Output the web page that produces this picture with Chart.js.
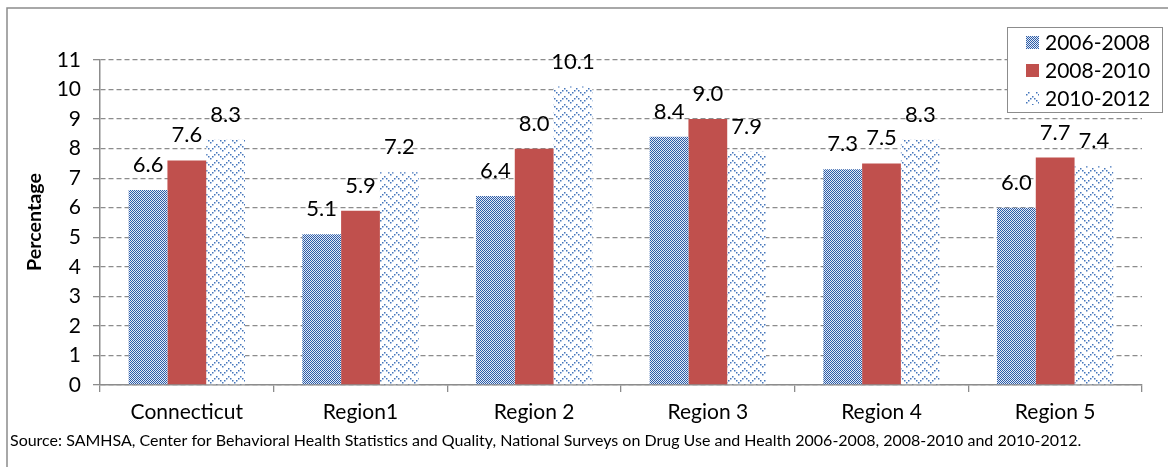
<!DOCTYPE html>
<html>
<head>
<meta charset="utf-8">
<script src="https://cdn.jsdelivr.net/npm/chart.js@4/dist/chart.umd.min.js"></script>
<style>
  html, body { margin: 0; padding: 0; background: #fff; }
  #wrap { width: 1168px; height: 467px; position: relative; }
</style>
</head>
<body>
<div id="wrap"><canvas id="c" width="1168" height="467"></canvas></div>
<script>
// ---- data ----
const categories = ['Connecticut', 'Region1', 'Region 2', 'Region 3', 'Region 4', 'Region 5'];
const seriesNames = ['2006-2008', '2008-2010', '2010-2012'];
const values0608 = [6.6, 5.1, 6.4, 8.4, 7.3, 6.0];
const values0810 = [7.6, 5.9, 8.0, 9.0, 7.5, 7.7];
const values1012 = [8.3, 7.2, 10.1, 7.9, 8.3, 7.4];
const yTickLabels = ['0', '1', '2', '3', '4', '5', '6', '7', '8', '9', '10', '11'];
const yAxisTitle = 'Percentage';
const sourceNote = 'Source: SAMHSA, Center for Behavioral Health Statistics and Quality, National Surveys on Drug Use and Health 2006-2008, 2008-2010 and 2010-2012.';

// ---- styles ----
const FONT = 'Lato, "Open Sans", sans-serif';
const BLUE = '#2c5ca8';
const RED = '#c0504d';
const AXIS = '#8c8c8c';

const canvas = document.getElementById('c');
const ctx = canvas.getContext('2d');

// fine checkerboard fill
function checkerFill() {
  const t = document.createElement('canvas');
  t.width = 2; t.height = 2;
  const g = t.getContext('2d');
  g.fillStyle = '#e4ebf6'; g.fillRect(0, 0, 2, 2);
  g.fillStyle = BLUE; g.fillRect(0, 0, 1, 1); g.fillRect(1, 1, 1, 1);
  return ctx.createPattern(t, 'repeat');
}

// dotted zig-zag fill
function zigzagFill() {
  const W = 12, H = 8;
  const t = document.createElement('canvas');
  t.width = W; t.height = H;
  const g = t.getContext('2d');
  g.fillStyle = '#fff'; g.fillRect(0, 0, W, H);
  g.fillStyle = '#4576bb';
  for (let x = 0; x < W; x += 2) {
    const y = 6 - Math.abs(x - 6);
    g.fillRect(x, y, 1.5, 1.5);
  }
  return ctx.createPattern(t, 'repeat');
}

const fills = [checkerFill(), RED, zigzagFill()];
const seriesValues = [values0608, values0810, values1012];

const datasets = seriesNames.map((name, i) => ({
  label: name,
  data: seriesValues[i],
  backgroundColor: fills[i],
  borderWidth: 0,
  categoryPercentage: 0.67,
  barPercentage: 1.0
}));

// page frame, value labels, legend, axis title, source line
const decorations = {
  id: 'decorations',
  beforeDraw(chart) {
    const c = chart.ctx;
    c.save();
    c.fillStyle = '#fff';
    c.fillRect(0, 0, chart.width, chart.height);
    c.strokeStyle = AXIS;
    c.lineWidth = 1.5;
    c.strokeRect(7, 8, chart.width + 10, chart.height + 10);
    c.restore();
  },
  afterDatasetsDraw(chart) {
    const c = chart.ctx;
    c.save();
    c.fillStyle = '#000';
    c.font = '22px ' + FONT;
    c.textAlign = 'center';
    c.textBaseline = 'alphabetic';
    chart.data.datasets.forEach((ds, di) => {
      chart.getDatasetMeta(di).data.forEach((bar, i) => {
        c.fillText(ds.data[i].toFixed(1), bar.x, bar.y - 18);
      });
    });
    c.restore();
  },
  afterDraw(chart) {
    const c = chart.ctx;
    c.save();
    // legend
    const lx = 1007, ly = 27, lw = 155, lh = 85;
    c.fillStyle = '#fff';
    c.fillRect(lx, ly, lw, lh);
    c.strokeStyle = AXIS;
    c.lineWidth = 1;
    c.strokeRect(lx + 0.5, ly + 0.5, lw, lh);
    c.font = '21px ' + FONT;
    c.textBaseline = 'middle';
    c.textAlign = 'left';
    chart.data.datasets.forEach((ds, i) => {
      const cy = 42 + i * 28;
      c.fillStyle = ds.backgroundColor;
      c.fillRect(1026, cy - 6, 13, 13);
      c.fillStyle = '#000';
      c.fillText(ds.label, 1045, cy + 1);
    });
    // y-axis title
    c.save();
    c.font = 'bold 16px ' + FONT;
    const tw = c.measureText(yAxisTitle).width;
    const ts = 16 * 98 / tw;
    c.translate(35, 222);
    c.rotate(-Math.PI / 2);
    c.font = 'bold ' + ts.toFixed(2) + 'px ' + FONT;
    c.textAlign = 'center';
    c.textBaseline = 'middle';
    c.fillStyle = '#000';
    c.fillText(yAxisTitle, 0, 0);
    c.restore();
    // source line
    c.font = '14px ' + FONT;
    const w = c.measureText(sourceNote).width;
    const size = 14 * 1072 / w;
    c.font = size.toFixed(2) + 'px ' + FONT;
    c.fillStyle = '#000';
    c.textAlign = 'left';
    c.textBaseline = 'middle';
    c.fillText(sourceNote, 10, 441);
    c.restore();
  }
};

new Chart(canvas, {
  type: 'bar',
  data: { labels: categories, datasets },
  options: {
    responsive: false,
    animation: false,
    devicePixelRatio: 1,
    layout: { padding: { top: 60, right: 26, left: 0, bottom: 0 } },
    plugins: {
      legend: { display: false },
      tooltip: { enabled: false },
      title: { display: false }
    },
    scales: {
      x: {
        offset: true,
        grid: {
          display: true, drawOnChartArea: false, drawTicks: true,
          tickLength: 7, color: AXIS, lineWidth: 1.3, offset: true
        },
        border: { display: true, color: AXIS, width: 1.5 },
        ticks: {
          color: '#000', font: { family: FONT, size: 21 },
          padding: 8, maxRotation: 0, autoSkip: false
        },
        afterFit(s) { s.height = 82; }
      },
      y: {
        min: 0, max: 11,
        grid: {
          color: AXIS, lineWidth: 1.3, tickLength: 7,
          drawTicks: true, tickBorderDash: []
        },
        border: { display: true, color: AXIS, width: 1.5, dash: [5, 3] },
        ticks: {
          stepSize: 1, color: '#000', font: { family: FONT, size: 21 },
          padding: 12,
          callback: (v, i) => yTickLabels[i]
        },
        afterFit(s) { s.width = 100; }
      }
    }
  },
  plugins: [decorations]
});
</script>
</body>
</html>
